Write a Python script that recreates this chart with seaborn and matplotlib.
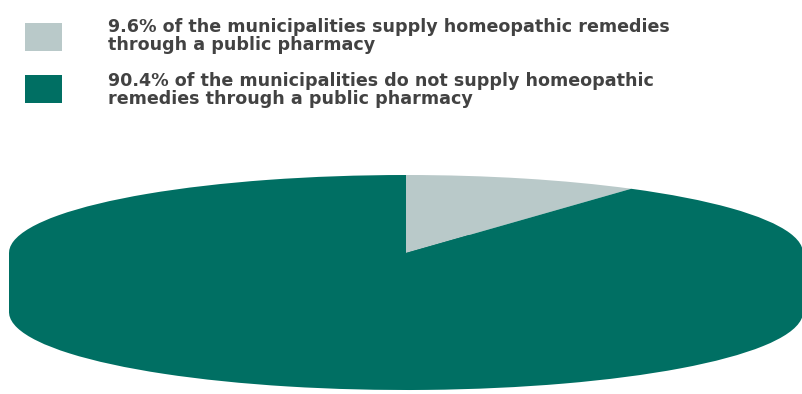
import matplotlib
matplotlib.use("Agg")
import matplotlib.pyplot as plt
from matplotlib.patches import Rectangle
from matplotlib.textpath import TextPath
from matplotlib.font_manager import FontProperties
import seaborn as sns

# Share of municipalities supplying homeopathic remedies via a public pharmacy
shares = [9.6, 90.4]
labels = [
    "9.6% of the municipalities supply homeopathic remedies\nthrough a public pharmacy",
    "90.4% of the municipalities do not supply homeopathic\nremedies through a public pharmacy",
]
colors = ["#b9c9c9", "#006f63"]

sns.set_theme(style="white")
plt.rcParams["font.family"] = ["DejaVu Sans"]

W, H = 803, 394
DPI = 100
fig = plt.figure(figsize=(W / DPI, H / DPI), dpi=DPI)
fig.patch.set_facecolor("white")

# Pixel geometry of the tilted pie
cx, cy = 406, 253          # centre of the top face
rx, ry = 397, 78           # semi-axes of the top face
depth = 59                 # thickness of the disc
d = depth / ry             # thickness in y-data units

ax = fig.add_axes([(cx - rx) / W, (H - (cy + ry + depth)) / H,
                   2 * rx / W, (2 * ry + depth) / H])

# Side wall: the bottom face plus the band joining both faces
ax.pie(shares, colors=[colors[1], colors[1]], startangle=90, counterclock=False,
       center=(0, -d), radius=1, wedgeprops=dict(linewidth=0))
ax.fill_between([-1, 1], -d, 0, color=colors[1], linewidth=0)

# Top face
wedges, _ = ax.pie(shares, colors=colors, startangle=90, counterclock=False,
                   center=(0, 0), radius=1, wedgeprops=dict(linewidth=0))

ax.set_aspect("auto")
ax.set_xlim(-1, 1)
ax.set_ylim(-1 - d, 1)
ax.axis("off")

# Legend: colour keys with two-line captions
fp = FontProperties(family="DejaVu Sans", weight="bold")
ref_line = labels[0].split("\n")[0]
w_at_1pt = TextPath((0, 0), ref_line, size=1, prop=fp).get_extents().width
fsize_px = 560 / w_at_1pt
fsize_pt = fsize_px * 72 / DPI
ascent_px = 0.76 * fsize_px

key_x, key_w, key_h = 25, 37, 28
key_tops = [23, 75]
text_x = 108
first_baselines = [31, 85]

for color, label, top, base in zip(colors, labels, key_tops, first_baselines):
    fig.patches.append(Rectangle((key_x / W, 1 - (top + key_h) / H), key_w / W, key_h / H,
                                 transform=fig.transFigure, facecolor=color,
                                 edgecolor="none"))
    fig.text(text_x / W, 1 - (base - ascent_px) / H, label,
             fontproperties=fp, fontsize=fsize_pt, color="#424242",
             ha="left", va="top", linespacing=1.02)

fig.savefig("out.png", dpi=DPI, facecolor="white")
